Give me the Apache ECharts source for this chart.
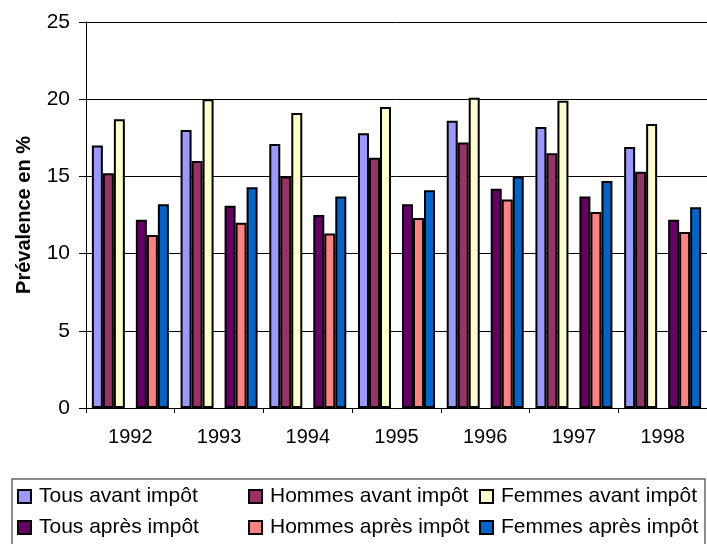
<!DOCTYPE html>
<html>
<head>
<meta charset="utf-8">
<script src="https://cdn.jsdelivr.net/npm/echarts@6/dist/echarts.min.js"></script>
<style>
  html, body { margin: 0; padding: 0; background: #fff; }
  #chart { width: 707px; height: 544px; }
</style>
</head>
<body>
<div id="chart"></div>
<script>
// Années
const years = ['1992', '1993', '1994', '1995', '1996', '1997', '1998'];

// Prévalence (%) par groupe
const tousAvant   = [17.0, 18.0, 17.1, 17.8, 18.6, 18.2, 16.9];
const hommesAvant = [15.2, 16.0, 15.0, 16.2, 17.2, 16.5, 15.3];
const femmesAvant = [18.7, 20.0, 19.1, 19.5, 20.1, 19.9, 18.4];
const tousApres   = [12.2, 13.1, 12.5, 13.2, 14.2, 13.7, 12.2];
const hommesApres = [11.2, 12.0, 11.3, 12.3, 13.5, 12.7, 11.4];
const femmesApres = [13.2, 14.3, 13.7, 14.1, 15.0, 14.7, 13.0];

// Série vide qui sépare les groupes « avant » et « après »
const separateur = [null, null, null, null, null, null, null];

// Graduations de l'axe vertical
const yMin = 0, yMax = 25, yStep = 5;

const seriesNames = [
  'Tous avant impôt', 'Hommes avant impôt', 'Femmes avant impôt',
  'Tous après impôt', 'Hommes après impôt', 'Femmes après impôt'
];
const seriesColors = ['#9999FF', '#993366', '#FFFFCC', '#660066', '#FF8080', '#0066CC'];
const seriesData = [tousAvant, hommesAvant, femmesAvant, tousApres, hommesApres, femmesApres];

const FONT = '"Liberation Sans", Arial, sans-serif';
// Largeur entière pour des bordures nettes (bande de 89 px par année)
const BAR_W = 11;

function barSeries(i) {
  return {
    name: seriesNames[i],
    type: 'bar',
    data: seriesData[i],
    barWidth: BAR_W,
    barGap: '0%',
    itemStyle: { color: seriesColors[i], borderColor: '#000', borderWidth: 2 },
    emphasis: { disabled: true }
  };
}

const series = [
  barSeries(0), barSeries(1), barSeries(2),
  { name: '', type: 'bar', data: separateur, barWidth: BAR_W, barGap: '0%', silent: true },
  barSeries(3), barSeries(4), barSeries(5)
];

const legendCommon = {
  left: 17,
  width: 690,
  padding: 0,
  orient: 'horizontal',
  itemWidth: 13,
  itemHeight: 13,
  itemGap: 9,
  icon: 'rect',
  selectedMode: false,
  itemStyle: { borderColor: '#000', borderWidth: 2 },
  textStyle: {
    fontFamily: FONT, fontSize: 21, color: '#000',
    width: 200, lineHeight: 21, padding: [0, 0, 0, 3]
  }
};

const chart = echarts.init(document.getElementById('chart'), null, { renderer: 'canvas' });
chart.setOption({
  animation: false,
  backgroundColor: '#fff',
  grid: { left: 86, top: 22, bottom: 136, right: -2, containLabel: false },
  xAxis: {
    type: 'category',
    data: years,
    axisLine: { show: true, lineStyle: { color: '#000', width: 1 } },
    axisTick: { show: true, alignWithLabel: false, length: 5, lineStyle: { color: '#000' } },
    axisLabel: { fontFamily: FONT, fontSize: 20, color: '#000', margin: 19 },
    splitLine: { show: false }
  },
  yAxis: {
    type: 'value',
    min: yMin, max: yMax, interval: yStep,
    name: 'Prévalence en %',
    nameLocation: 'middle',
    nameRotate: 90,
    nameGap: 52,
    nameTextStyle: { fontFamily: FONT, fontSize: 20, fontWeight: 'bold', color: '#000' },
    axisLine: { show: true, lineStyle: { color: '#000', width: 1 } },
    axisTick: { show: true, inside: false, length: 7, lineStyle: { color: '#000' } },
    axisLabel: { fontFamily: FONT, fontSize: 21, color: '#000', margin: 16 },
    splitLine: { show: true, lineStyle: { color: '#000', width: 1 } }
  },
  legend: [
    Object.assign({}, legendCommon, { top: 486, data: seriesNames.slice(0, 3) }),
    Object.assign({}, legendCommon, { top: 517, data: seriesNames.slice(3, 6) })
  ],
  graphic: [{
    type: 'rect',
    silent: true,
    shape: { x: 12, y: 479, width: 693, height: 80 },
    style: { fill: 'none', stroke: '#666', lineWidth: 1.5 }
  }],
  series: series
});
</script>
</body>
</html>
